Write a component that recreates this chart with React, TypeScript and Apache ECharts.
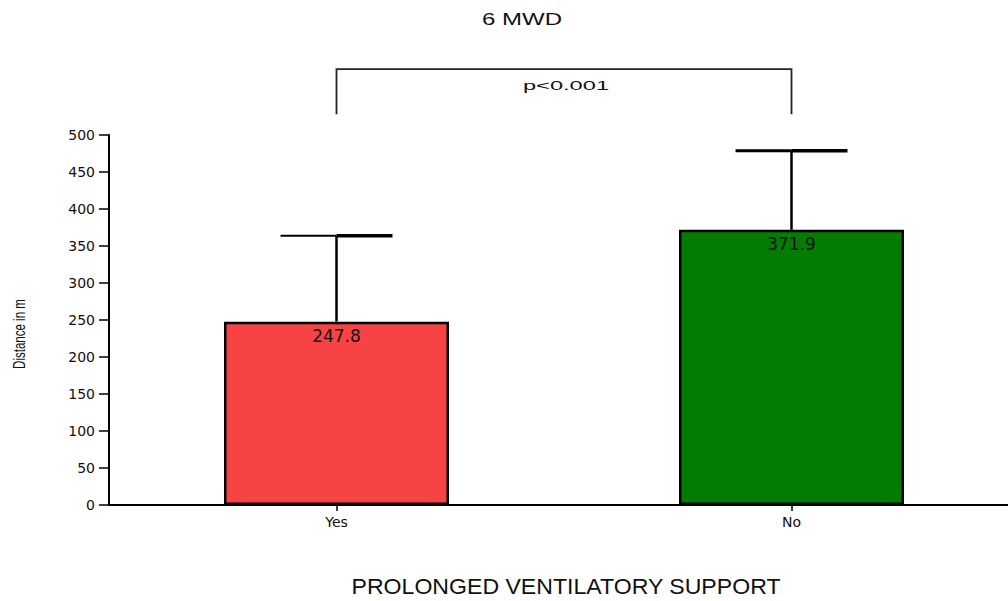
import React, { useEffect, useRef } from "react";
import * as echarts from "echarts";

const categories = ["Yes", "No"];
const means = [247.8, 371.9];
const errorTops = [363.9, 478.8];
const barColors = ["#F74343", "#037C03"];
const yTicksMax = 500;
const yTickStep = 50;
const bracket = { from: 0, to: 1, top: 589, bottom: 528 };

export default function App() {
  const ref = useRef<HTMLDivElement>(null);
  useEffect(() => {
    if (!ref.current) return;
    const chart = echarts.init(ref.current, undefined, { renderer: "svg" });
    const option: any = {
      animation: false,
      backgroundColor: "#ffffff",
      grid: { left: 109, top: 135, bottom: 96, width: 910, containLabel: false, outerBoundsMode: "none" },
      xAxis: {
        type: "category",
        data: categories,
        boundaryGap: true,
        axisLine: { show: true, lineStyle: { color: "#000", width: 2 } },
        axisTick: { show: true, alignWithLabel: true, length: 6, lineStyle: { color: "#000", width: 1.5 } },
        axisLabel: { color: "#111", fontFamily: "DejaVu Sans", fontSize: 14, margin: 10 },
        splitLine: { show: false },
      },
      yAxis: {
        type: "value",
        min: 0,
        max: yTicksMax,
        interval: yTickStep,
        axisLine: { show: true, lineStyle: { color: "#000", width: 2 } },
        axisTick: { show: true, length: 10, lineStyle: { color: "#000", width: 1.5 } },
        axisLabel: { color: "#111", fontFamily: "DejaVu Sans", fontSize: 14, margin: 14 },
        splitLine: { show: false },
      },
      series: [
        {
          type: "bar",
          barWidth: 225,
          data: means.map((v, i) => ({
            value: v,
            itemStyle: { color: barColors[i], borderColor: "#000", borderWidth: 2.5 },
          })),
          label: {
            show: true,
            position: "insideTop",
            distance: 6,
            color: "#111",
            fontFamily: "DejaVu Sans",
            fontSize: 17,
            formatter: (p: any) => p.value.toFixed(1),
          },
          z: 2,
        },
        {
          type: "custom",
          z: 3,
          clip: false,
          data: means.map((m, i) => [i, m, errorTops[i]]),
          renderItem: (params: any, api: any) => {
            const i = api.value(0);
            const base = api.coord([i, api.value(1)]);
            const top = api.coord([i, api.value(2)]);
            const half = api.size([1, 0])[0] * 0.123;
            const leftW = params.dataIndex === 0 ? 2 : 3;
            return {
              type: "group",
              children: [
                { type: "line", shape: { x1: base[0], y1: base[1], x2: top[0], y2: top[1] }, style: { stroke: "#000", lineWidth: 2.5 } },
                { type: "line", shape: { x1: top[0] - half, y1: top[1], x2: top[0], y2: top[1] }, style: { stroke: "#000", lineWidth: leftW } },
                { type: "line", shape: { x1: top[0], y1: top[1], x2: top[0] + half, y2: top[1] }, style: { stroke: "#000", lineWidth: 3.5 } },
              ],
            };
          },
        },
        {
          type: "custom",
          z: 3,
          clip: false,
          data: [[bracket.from, bracket.to, bracket.top, bracket.bottom]],
          renderItem: (params: any, api: any) => {
            const a = api.coord([api.value(0), api.value(2)]);
            const b = api.coord([api.value(1), api.value(2)]);
            const ab = api.coord([api.value(0), api.value(3)]);
            const bb = api.coord([api.value(1), api.value(3)]);
            return {
              type: "polyline",
              shape: { points: [ab, a, b, bb] },
              style: { stroke: "#222", lineWidth: 1.8, fill: "none" },
            };
          },
        },
      ],
      graphic: [
        {
          type: "text",
          x: 522,
          y: 20,
          scaleX: 1.5,
          style: { text: "6 MWD", font: "16px 'Liberation Sans', Arial", fill: "#111", textAlign: "center", textVerticalAlign: "middle" },
        },
        {
          type: "text",
          x: 566,
          y: 85,
          scaleX: 1.75,
          style: { text: "p<0.001", font: "13.5px 'Liberation Sans', Arial", fill: "#111", textAlign: "center", textVerticalAlign: "middle" },
        },
        {
          type: "text",
          x: 566,
          y: 587,
          scaleX: 1.05,
          style: { text: "PROLONGED VENTILATORY SUPPORT", font: "22px 'Liberation Sans', Arial", fill: "#111", textAlign: "center", textVerticalAlign: "middle" },
        },
        {
          type: "text",
          x: 19,
          y: 334,
          rotation: Math.PI / 2,
          scaleX: 0.72,
          style: { text: "Distance in m", font: "16px 'Liberation Sans', Arial", fill: "#111", textAlign: "center", textVerticalAlign: "middle" },
        },
      ],
    };
    chart.setOption(option);
    return () => chart.dispose();
  }, []);
  return <div ref={ref} style={{ position: "absolute", left: 0, top: 0, width: 1008, height: 601 }} />;
}
